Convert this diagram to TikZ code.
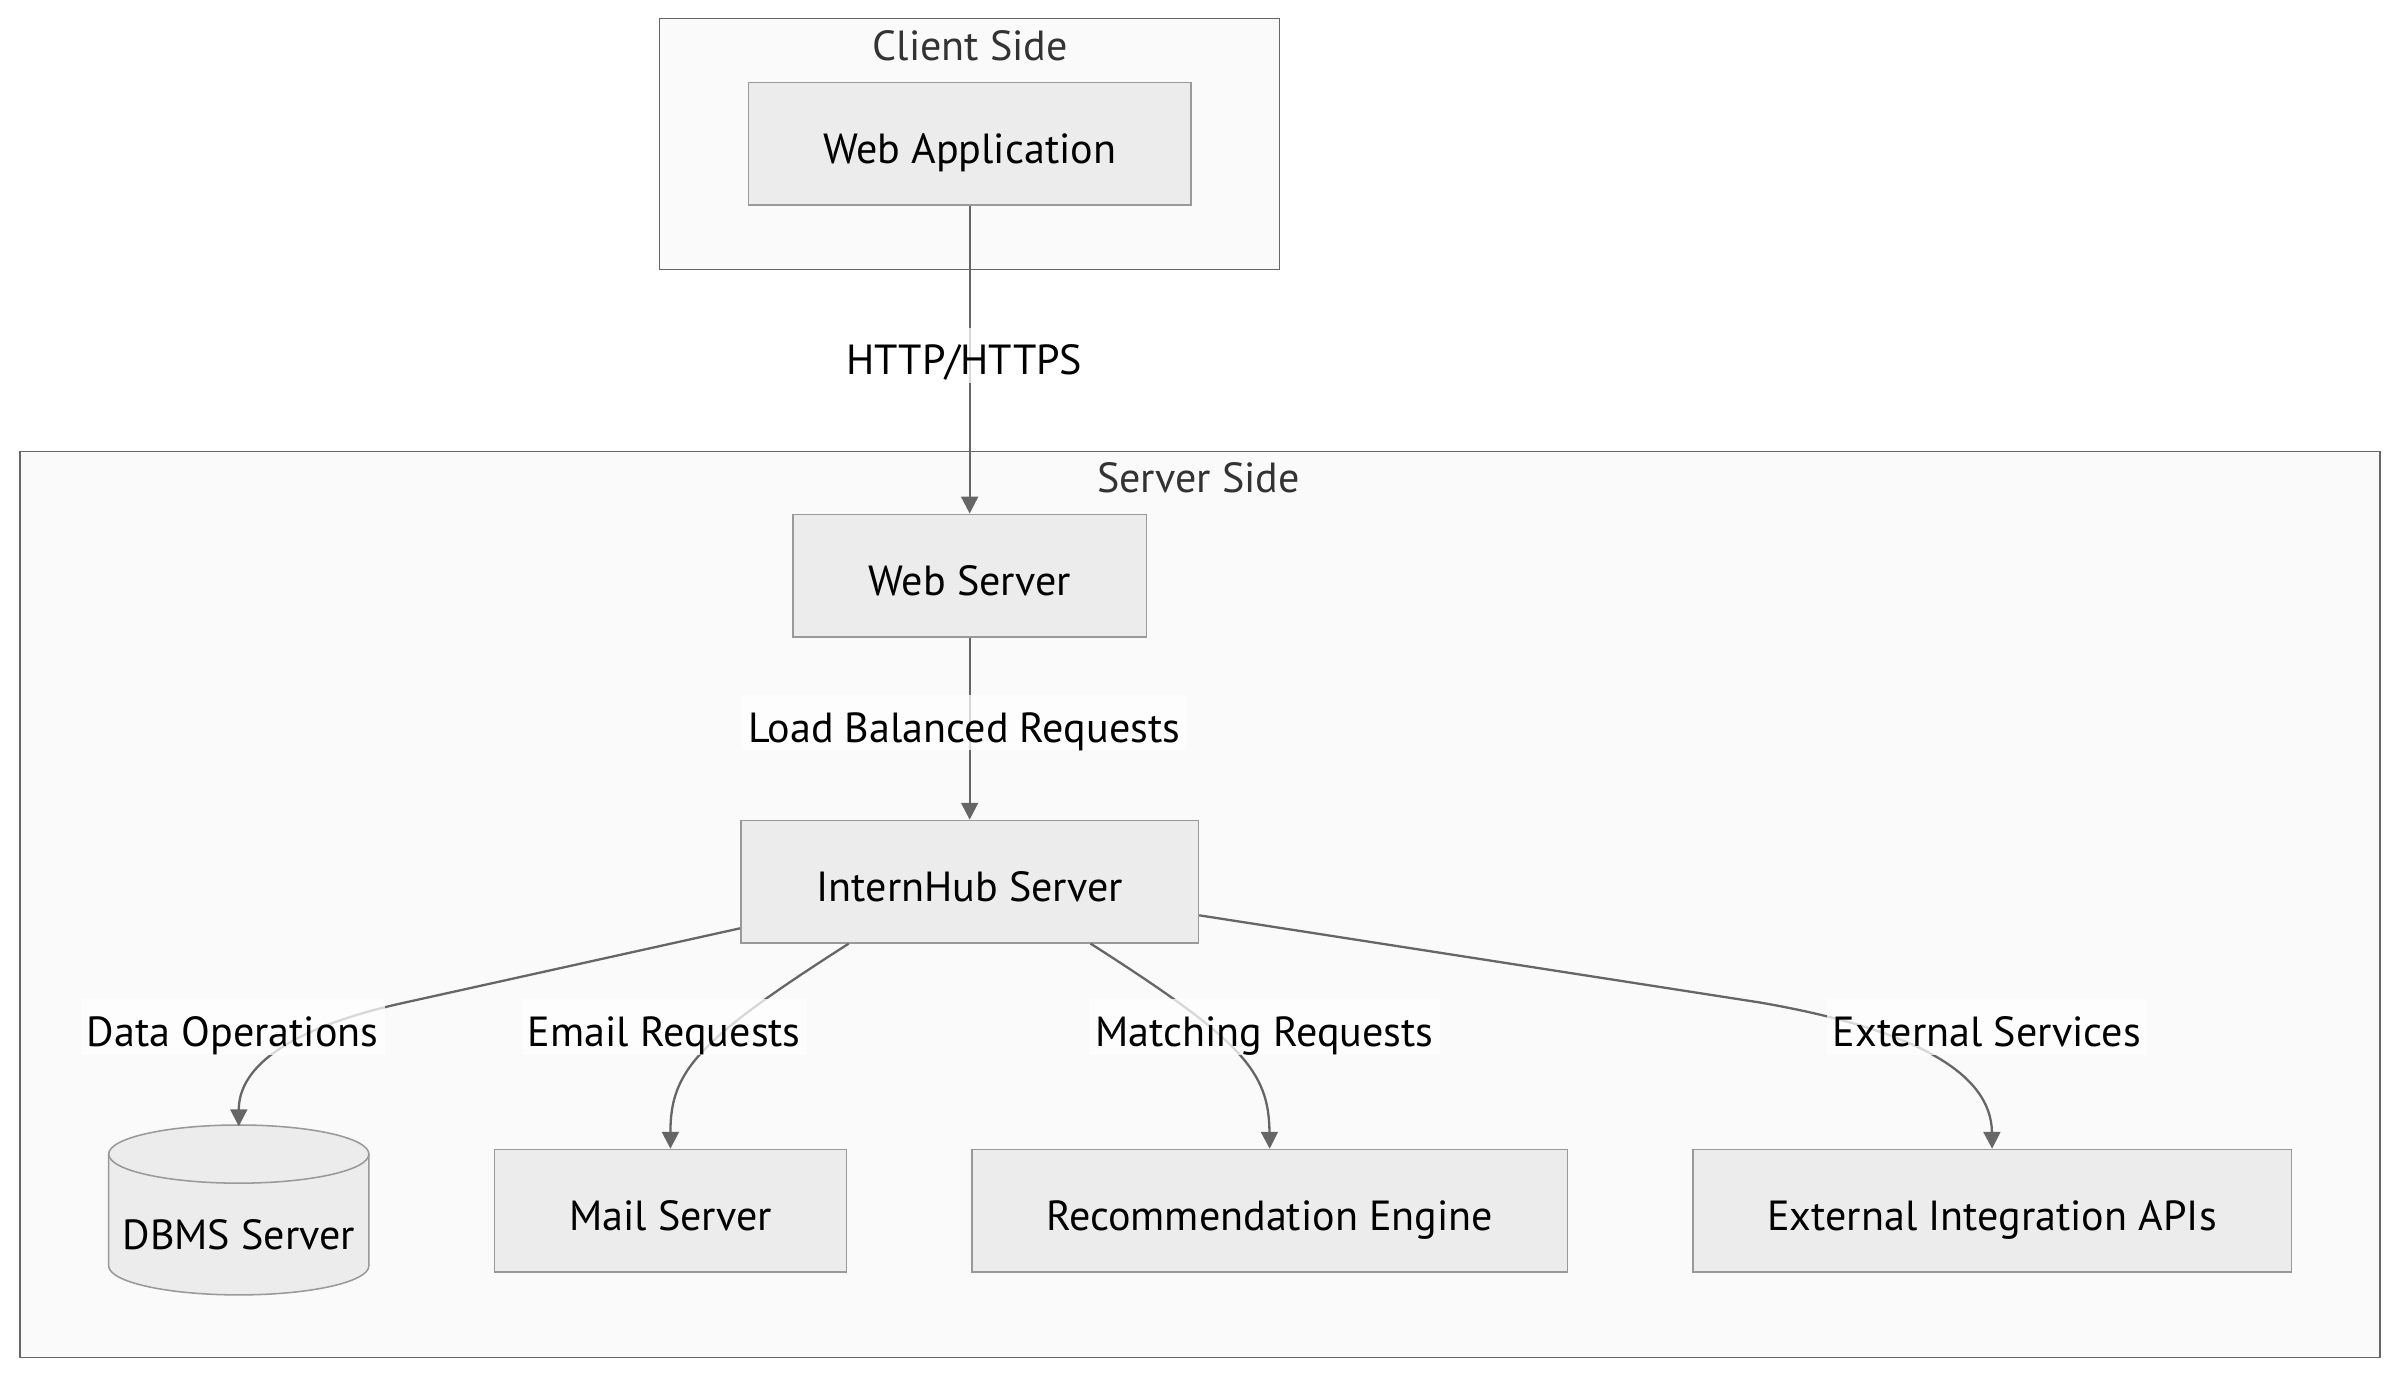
\documentclass[tikz,border=0pt]{standalone}
\usepackage{fontspec}
\setmainfont{PT Sans}
\usetikzlibrary{arrows.meta}
\definecolor{boxfill}{HTML}{ECECEC}
\definecolor{boxline}{HTML}{999999}
\definecolor{clusterfill}{HTML}{FAFAFA}
\definecolor{clusterline}{HTML}{666666}
\definecolor{edgeline}{HTML}{666666}
\definecolor{titletext}{HTML}{333333}
\newcommand{\diagfont}{\fontsize{27.5}{33}\selectfont}

\begin{document}
\begin{tikzpicture}[x=1pt,y=-1pt,
  box/.style={draw=boxline, fill=boxfill, line width=1pt, minimum height=80pt, text height=26pt, text depth=0pt, font=\diagfont},
  cluster/.style={draw=clusterline, fill=clusterfill, line width=1pt},
  title/.style={text=titletext, font=\diagfont},
  edge/.style={draw=edgeline, line width=1.5pt, -{Triangle[length=11pt,width=11pt]}},
  lbl/.style={fill=white, fill opacity=0.75, text opacity=1, inner xsep=4pt, inner ysep=5pt, text height=26pt, text depth=0pt, font=\diagfont}]
\useasboundingbox (0,0) rectangle (1568,900.95);

\draw [cluster](431,12) rectangle (836,176); % client side
\node [title] (clienttitle) at (634,30) {Client Side};
\node [box, minimum width=289pt] (webapp) at (633.5,94) {Web Application};

\draw [cluster](13,295) rectangle (1555,887); % server side
\node [title] (servertitle) at (783,312) {Server Side};
\node [box, minimum width=231pt] (websrv) at (633.5,376) {Web Server};
\node [box, minimum width=299pt] (hub) at (633.5,576) {InternHub Server};

% DBMS cylinder
\draw [draw=boxline, fill=boxfill, line width=1pt](71,754) -- (71,827)
  arc[start angle=180, end angle=360, x radius=85pt, y radius=19pt] -- (241,754)
  arc[start angle=0, end angle=180, x radius=85pt, y radius=19pt] -- cycle;
\draw [draw=boxline, line width=1pt](71,754) arc[start angle=180, end angle=360, x radius=85pt, y radius=19pt];
\node [minimum width=170pt, minimum height=110pt] (dbms) at (156,791) {};
\node [font=\diagfont] (dbmstext) at (156,807) {DBMS Server};

\node [box, minimum width=230pt] (mail) at (438,791) {Mail Server};
\node [box, minimum width=389pt] (reco) at (829.5,791) {Recommendation Engine};
\node [box, minimum width=391pt] (extapi) at (1301.5,791) {External Integration APIs};

\draw [edge](webapp) -- (websrv);
\draw [edge](websrv) -- (hub);
\draw [edge]([yshift=10pt]hub.south west) -- (260,656) .. controls (182,674) and (156,700) .. (dbms.north);
\draw [edge]([xshift=71pt]hub.south west) .. controls (455,680) and (438,700) .. (mail.north);
\draw [edge]([xshift=-71pt]hub.south east) .. controls (812,680) and (829,700) .. (reco.north);
\draw [edge]([yshift=-22pt]hub.east) -- (1150,655) .. controls (1248,672) and (1301,700) .. (extapi.north);

\node [lbl] (httplbl) at (630,232) {HTTP/HTTPS};
\node [lbl] (loadlbl) at (630,472) {Load Balanced Requests};
\node [lbl] (datalbl) at (152,671) {Data Operations};
\node [lbl] (maillbl) at (434,671) {Email Requests};
\node [lbl] (matchlbl) at (826,671) {Matching Requests};
\node [lbl] (extlbl) at (1298,671) {External Services};
\end{tikzpicture}
\end{document}
